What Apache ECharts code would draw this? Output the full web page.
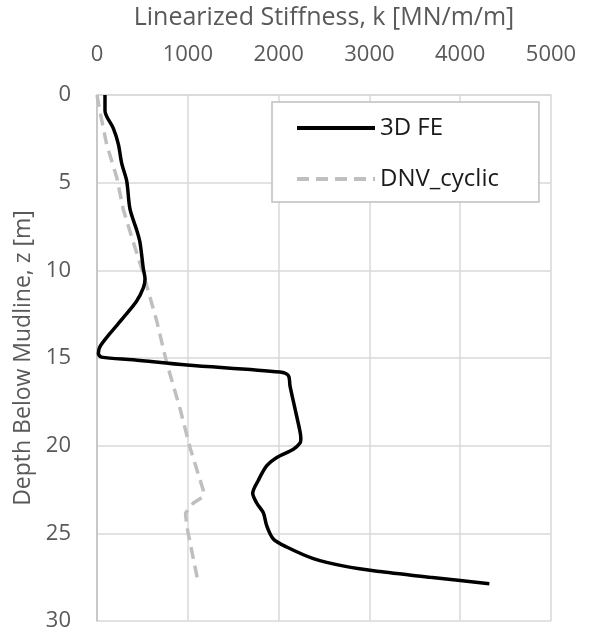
<!DOCTYPE html>
<html>
<head>
<meta charset="utf-8">
<script src="https://cdn.jsdelivr.net/npm/echarts@6/dist/echarts.min.js"></script>
<style>
html,body{margin:0;padding:0;background:#fff;}
#chart{width:592px;height:635px;}
</style>
</head>
<body>
<div id="chart"></div>
<script>
// 3D FE curve: depth z [m] and stiffness k [MN/m/m]
var feDepth = [0, 0.9, 1.9, 2.8, 3.9, 4.9, 6.5, 7.7, 8.4, 9.9, 10.5, 11.0, 11.75, 12.7, 13.6, 14.35, 14.75, 14.95, 15.1, 15.4, 15.8, 16.0, 16.6, 17.9, 19.2, 19.6, 19.85, 20.2, 20.67, 21.14, 21.97, 22.72, 23.27, 23.83, 24.58, 25.32, 25.78, 26.44, 26.9, 27.18, 27.51, 27.87];
var feK =     [88, 88, 180, 235, 272, 327, 363, 437, 473, 510, 529, 510, 437, 290, 143, 33, 15, 50, 400, 988, 2015, 2107, 2126, 2181, 2236, 2245, 2236, 2163, 1980, 1870, 1777, 1715, 1759, 1832, 1870, 1942, 2089, 2383, 2750, 3117, 3667, 4321];
// DNV cyclic curve
var dnvDepth = [0, 0.96, 2.83, 4.69, 6.54, 8.4, 9.9, 10.54, 12.87, 15.28, 17.88, 20.1, 22.55, 22.9, 23.27, 23.85, 24.58, 27.85];
var dnvK =     [0, 33, 107, 217, 290, 400, 492, 529, 657, 768, 914, 1024, 1171, 1171, 1061, 975, 988, 1116];
// Axis ticks
var xTicks = [0, 1000, 2000, 3000, 4000, 5000];
var yTicks = [0, 5, 10, 15, 20, 25, 30];

function pairs(k, z){ return k.map(function(v,i){ return [v, z[i]]; }); }

var textColor = '#595959';
var fontFam = '"Open Sans", "Liberation Sans", sans-serif';
var chart = echarts.init(document.getElementById('chart'));
chart.setOption({
  animation: false,
  backgroundColor: '#ffffff',
  textStyle: {fontFamily: fontFam},
  grid: {left: 97, top: 86, width: 454, height: 535, containLabel: false},
  xAxis: {
    type: 'value', position: 'top',
    min: xTicks[0], max: xTicks[xTicks.length-1], interval: 1000,
    name: 'Linearized Stiffness, k [MN/m/m]',
    nameLocation: 'middle', nameGap: 65,
    nameTextStyle: {color: textColor, fontSize: 25, fontFamily: fontFam},
    axisLine: {show: true, lineStyle: {color: '#d9d9d9', width: 1.5}},
    axisTick: {show: false},
    axisLabel: {color: textColor, fontSize: 22, margin: 29, fontFamily: fontFam,
      formatter: function(v){ return String(v); }},
    splitLine: {show: true, lineStyle: {color: '#d9d9d9', width: 1.5}}
  },
  yAxis: {
    type: 'value', inverse: true,
    min: yTicks[0], max: yTicks[yTicks.length-1], interval: 5,
    name: 'Depth Below Mudline, z [m]',
    nameLocation: 'middle', nameGap: 58, nameRotate: 90,
    nameTextStyle: {color: textColor, fontSize: 23, fontFamily: fontFam},
    axisLine: {show: true, lineStyle: {color: '#bfbfbf', width: 1.5}},
    axisTick: {show: false},
    axisLabel: {color: textColor, fontSize: 22, margin: 26, fontFamily: fontFam,
      formatter: function(v){ return String(v); }},
    splitLine: {show: true, lineStyle: {color: '#d9d9d9', width: 1.5}}
  },
  legend: {
    orient: 'vertical', left: 272, top: 102,
    itemWidth: 78, itemHeight: 20, itemGap: 27,
    padding: [14, 40, 11, 23],
    borderColor: '#bfbfbf', borderWidth: 1.5,
    backgroundColor: '#ffffff',
    itemStyle: {opacity: 0},
    lineStyle: {width: 4},
    textStyle: {color: '#1a1a1a', fontSize: 24, fontFamily: fontFam},
    data: ['3D FE', 'DNV_cyclic']
  },
  series: [
    {
      name: '3D FE', type: 'line', data: pairs(feK, feDepth),
      symbol: 'none', smooth: 0.3, z: 3,
      lineStyle: {color: '#000000', width: 3.5},
      itemStyle: {color: '#000000'}
    },
    {
      name: 'DNV_cyclic', type: 'line', data: pairs(dnvK, dnvDepth),
      symbol: 'none', smooth: false, z: 2,
      lineStyle: {color: '#bfbfbf', width: 3.5, type: [12, 7]},
      itemStyle: {color: '#bfbfbf'}
    }
  ]
});
</script>
</body>
</html>
